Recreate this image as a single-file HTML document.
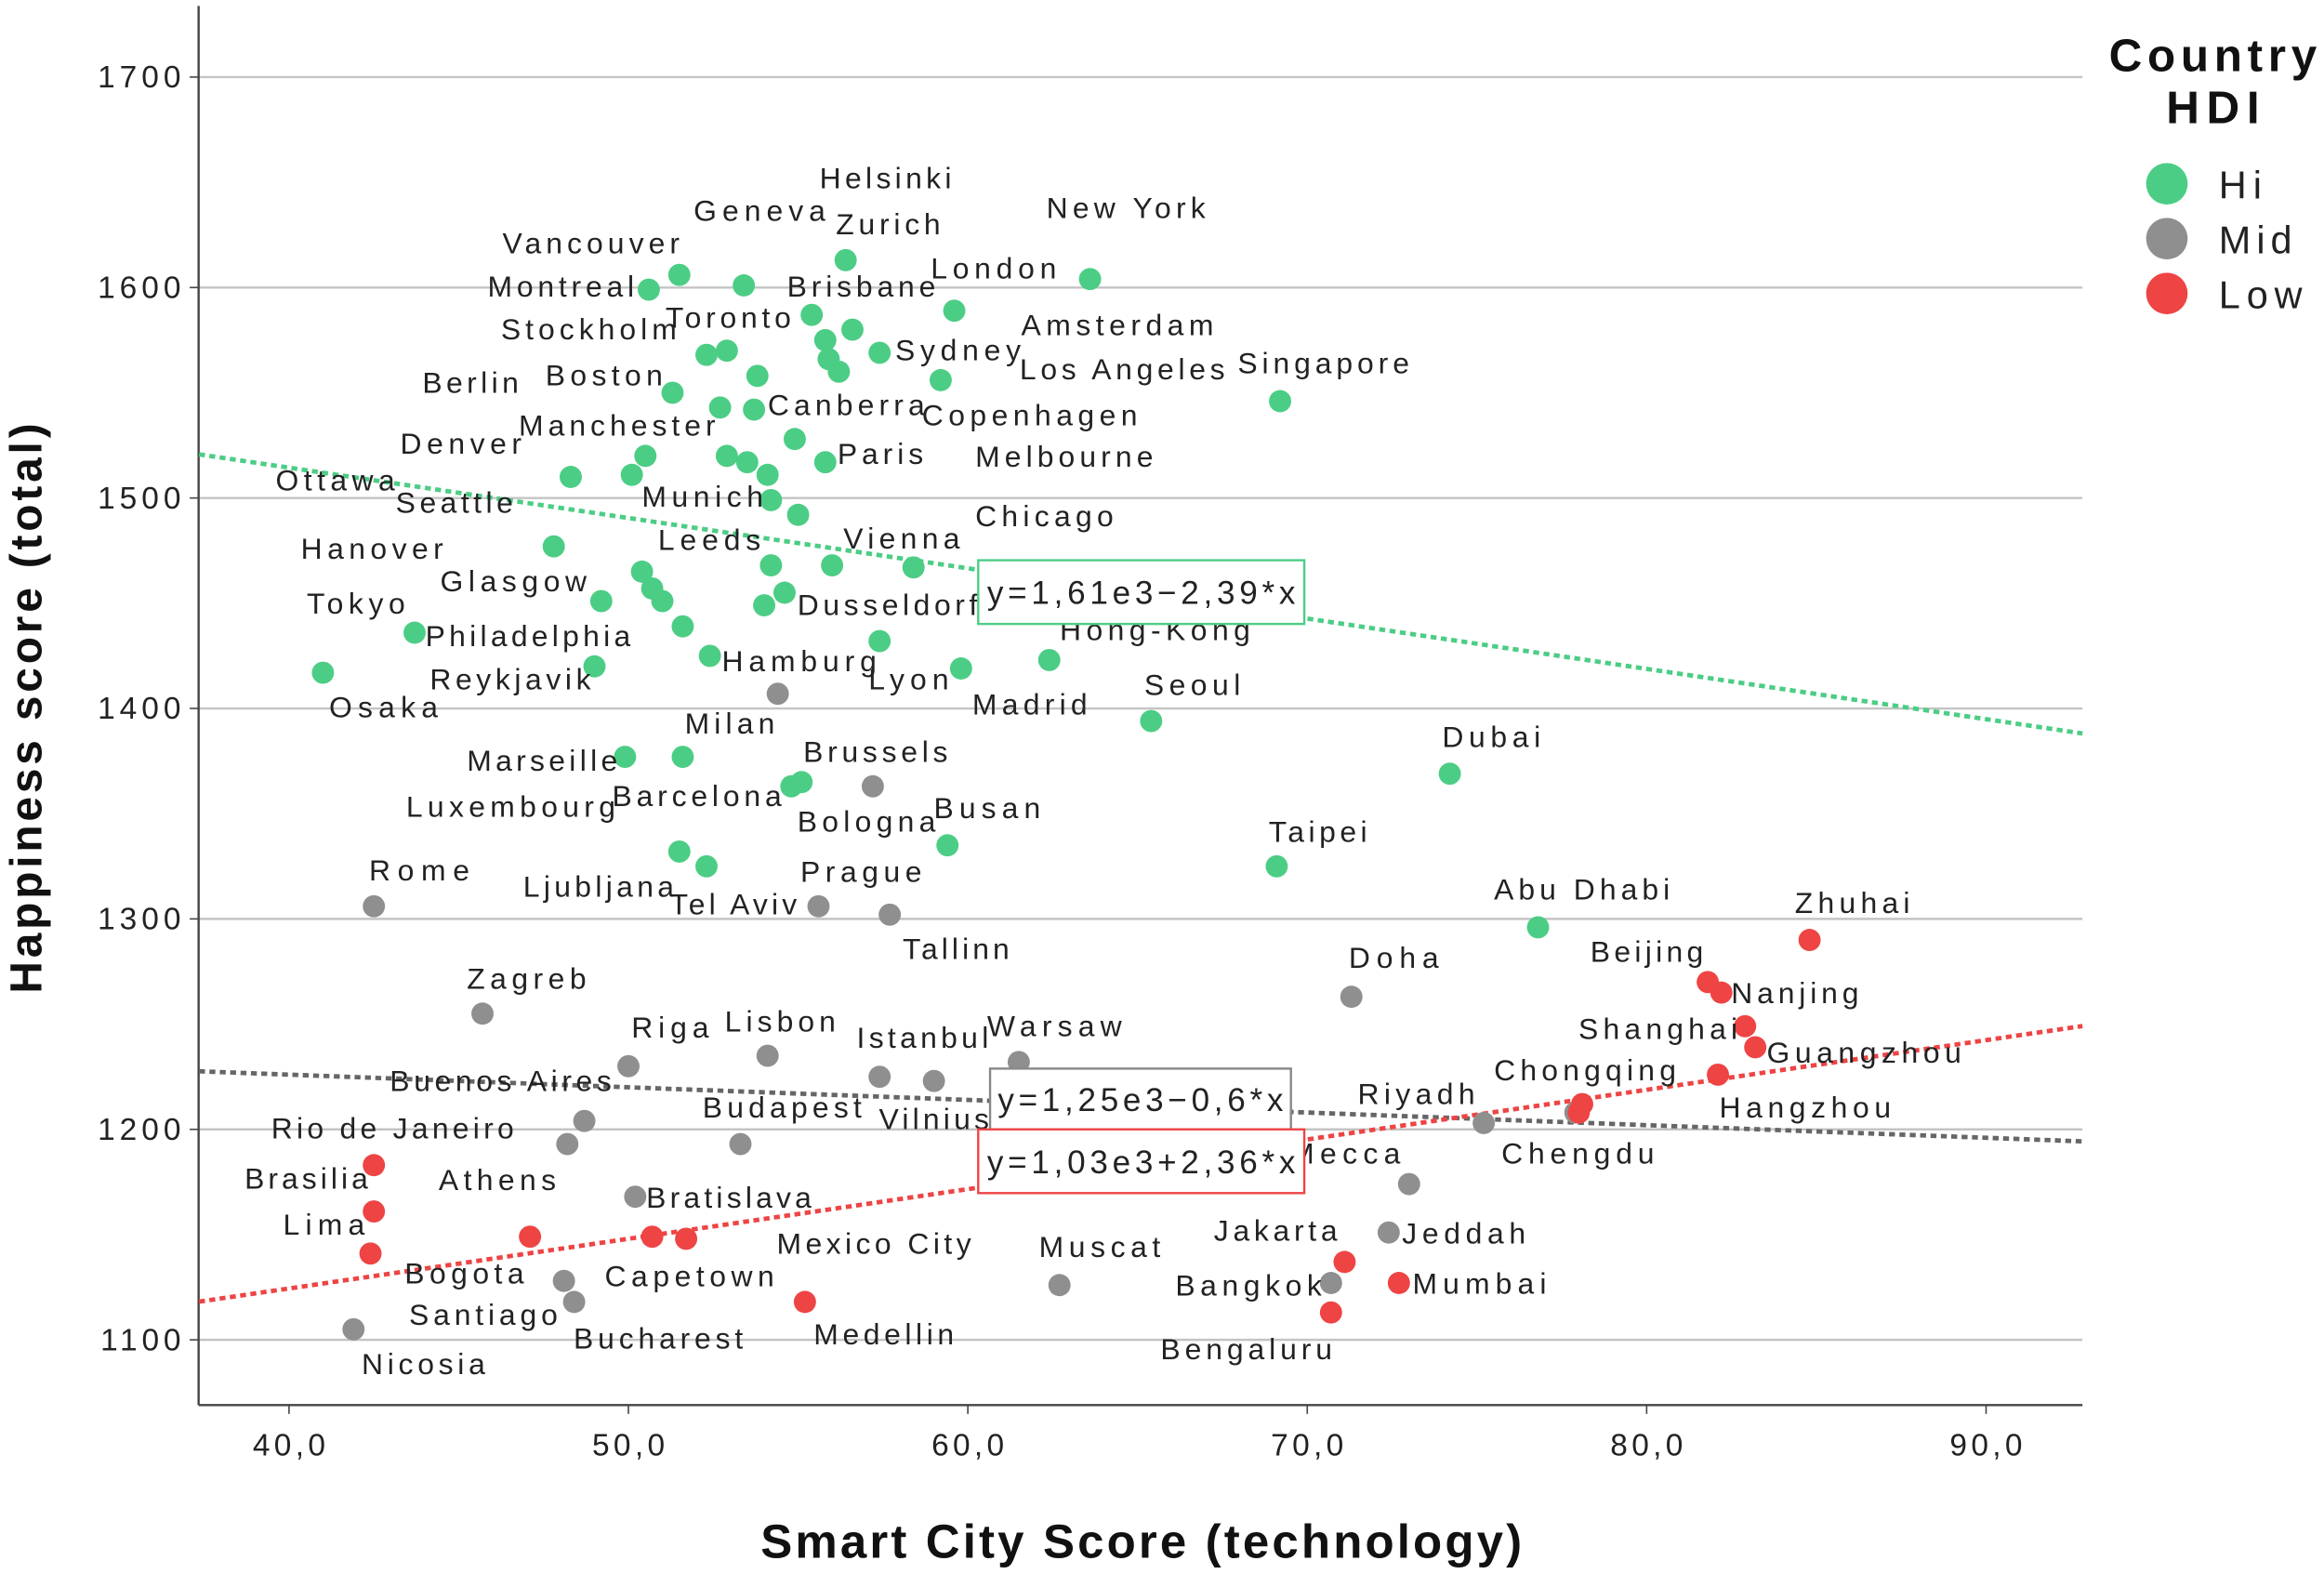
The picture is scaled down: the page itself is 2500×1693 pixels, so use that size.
<!DOCTYPE html>
<html><head><meta charset="utf-8"><style>
html,body{margin:0;padding:0;background:#fff;}
svg{display:block;font-family:"Liberation Sans",sans-serif;}
</style></head><body>
<svg id="chart" width="2500" height="1693" viewBox="0 0 1568 1062" preserveAspectRatio="none" xmlns="http://www.w3.org/2000/svg">
<rect width="1568" height="1062" fill="#fff"/>
<g id="grid"></g>
<g id="axes"></g>
<g id="lines"></g>
<g id="dots"></g>
<g id="labels" font-size="20" fill="#222"></g>
<g id="boxes"></g>
<g>
<text class="s118" x="1493" y="48" text-anchor="middle" font-size="31" font-weight="bold" fill="#111">Country</text>
<text class="s118" x="1493" y="83" text-anchor="middle" font-size="31" font-weight="bold" fill="#111">HDI</text>
<circle cx="1462" cy="124" r="14" fill="#4ccd85"/>
<text class="s118" x="1497" y="134" font-size="26" fill="#222">Hi</text>
<circle cx="1462" cy="161" r="14" fill="#8f8f8f"/>
<text class="s118" x="1497" y="171" font-size="26" fill="#222">Mid</text>
<circle cx="1462" cy="198" r="14" fill="#ee4444"/>
<text class="s118" x="1497" y="208" font-size="26" fill="#222">Low</text>
</g>
<text class="s116" transform="translate(28,478) rotate(-90)" text-anchor="middle" font-size="30" font-weight="bold" fill="#111">Happiness score (total)</text>
<text class="s112" x="770" y="1051" text-anchor="middle" font-size="32" font-weight="bold" fill="#111">Smart City Score (technology)</text>
</svg>
<script>
const xTicks = [40, 50, 60, 70, 80, 90];
const xTickLabels = ["40,0", "50,0", "60,0", "70,0", "80,0", "90,0"];
const yTicks = [1100, 1200, 1300, 1400, 1500, 1600, 1700];
const hiX = [51.5,53.4,56.4,63.6,50.6,55.4,56.6,59.6,52.3,52.9,53.8,55.8,55.9,56.2,57.4,59.2,51.3,52.7,53.7,54.9,55.8,50.5,48.3,50.1,52.9,53.5,54.1,54.2,55.0,47.8,54.2,56.0,58.4,50.4,50.7,51.0,49.2,54.6,54.0,51.6,52.4,43.7,57.4,62.4,59.8,49.0,41.0,65.4,74.2,49.9,51.6,54.8,55.1,59.4,51.5,52.3,69.1,76.8,69.2];
const hiY = [1606,1601,1613,1604,1599,1587,1580,1589,1568,1570,1558,1575,1566,1560,1569,1556,1550,1543,1542,1528,1517,1520,1510,1511,1520,1517,1511,1499,1492,1477,1468,1468,1467,1465,1457,1451,1451,1455,1449,1439,1425,1436,1432,1423,1419,1420,1417,1394,1369,1377,1377,1363,1365,1335,1332,1325,1325,1296,1546];
const midX = [54.4,57.2,42.5,55.6,57.7,45.7,50.0,54.1,57.4,59.0,61.5,48.7,48.2,53.3,50.2,48.1,48.4,41.9,62.7,70.7,72.4,73.0,71.3,75.2,77.9];
const midY = [1407,1363,1306,1306,1302,1255,1230,1235,1225,1223,1232,1204,1193,1193,1168,1128,1118,1105,1126,1127,1151,1174,1263,1203,1208];
const lowX = [42.5,42.5,42.4,47.1,50.7,51.7,55.2,84.8,81.8,82.2,82.9,83.2,82.1,78.1,78.0,71.1,70.7,72.7];
const lowY = [1183,1161,1141,1149,1149,1148,1118,1290,1270,1265,1249,1239,1226,1212,1208,1137,1113,1127];
const fitIntercept = [1610, 1250, 1030];
const fitSlope = [-2.39, -0.6, 2.36];
const fitLabels = ["y=1,61e3\u22122,39*x", "y=1,25e3\u22120,6*x", "y=1,03e3+2,36*x"];

const NS = "http://www.w3.org/2000/svg";
const X0 = 37.35, X1 = 92.84;
function sx(v){ return 195 + (v - 40) * 22.9; }
function sy(v){ return 52 + (1700 - v) * 1.42; }
function mk(tag, attrs, parent){ const e = document.createElementNS(NS, tag); for (const k in attrs) e.setAttribute(k, attrs[k]); parent.appendChild(e); return e; }

const grid = document.getElementById('grid');
yTicks.forEach(t => {
  const l = mk('line', {x1:134, x2:1405, y1:sy(t), y2:sy(t), stroke:'#c4c4c4', 'stroke-width':1.5}, grid);
  
  
});
const axes = document.getElementById('axes');
const ya = mk('line', {x1:134, x2:134, y1:4, y2:948, stroke:'#444', 'stroke-width':1.5}, axes);


const xa = mk('line', {x1:134, x2:1405, y1:948, y2:948, stroke:'#444', 'stroke-width':1.5}, axes);


yTicks.forEach(t => {
  const tx = mk('text', {x:122, y:sy(t)+7, 'text-anchor':'end', 'font-size':21, fill:'#222', 'class':'s120'}, axes);
  tx.textContent = t;
  
  
  mk('line', {x1:128, x2:134, y1:sy(t), y2:sy(t), stroke:'#444'}, axes);
});
xTicks.forEach((t, i) => {
  const tx = mk('text', {x:sx(t), y:982, 'text-anchor':'middle', 'font-size':21, fill:'#222', 'class':'s120'}, axes);
  tx.textContent = xTickLabels[i];
  
  
  mk('line', {x1:sx(t), x2:sx(t), y1:948, y2:954, stroke:'#444'}, axes);
});

const colors = ['#4ccd85', '#666666', '#ee4444'];
const lines = document.getElementById('lines');
fitIntercept.forEach((a, i) => {
  const b = fitSlope[i];
  const l = mk('line', {x1:sx(X0), y1:sy(a + b*X0), x2:sx(X1), y2:sy(a + b*X1), stroke:colors[i], 'stroke-width':3, 'stroke-dasharray':'4 3'}, lines);
  
  
});

const dots = document.getElementById('dots');
function drawSeries(xs, ys, col, name){
  xs.forEach((x, i) => {
    const c = mk('circle', {cx:sx(x), cy:sy(ys[i]), r:7.5, fill:col}, dots);
    
    
  });
}
drawSeries(hiX, hiY, '#4ccd85', 'hi');
drawSeries(midX, midY, '#8f8f8f', 'mid');
drawSeries(lowX, lowY, '#ee4444', 'low');

const labelData = [["Helsinki",553,120],["Geneva",468,142],["Zurich",564,151],["New York",706,140],["Vancouver",339,164],["London",628,181],["Montreal",329,193],["Brisbane",531,193],["Toronto",449,214],["Amsterdam",689,219],["Stockholm",338,222],["Sydney",604,236],["Los Angeles",688,249],["Singapore",835,245],["Berlin",285,258],["Boston",368,253],["Canberra",518,273],["Copenhagen",622,280],["Manchester",350,287],["Denver",270,299],["Paris",565,306],["Melbourne",658,308],["Ottawa",186,324],["Seattle",267,339],["Munich",433,335],["Chicago",658,348],["Hanover",203,370],["Leeds",444,364],["Vienna",569,363],["Glasgow",297,392],["Tokyo",207,407],["Dusseldorf",538,408],["Philadelphia",287,429],["Hong-Kong",715,425],["Hamburg",487,446],["Lyon",586,458],["Reykjavik",290,458],["Madrid",656,475],["Seoul",772,462],["Osaka",222,477],["Milan",462,488],["Dubai",973,497],["Brussels",542,507],["Marseille",315,513],["Barcelona",413,537],["Luxembourg",274,544],["Bologna",538,554],["Busan",630,545],["Taipei",856,561],["Rome",249,587],["Prague",540,588],["Ljubljana",353,598],["Abu Dhabi",1008,600],["Tel Aviv",452,610],["Zhuhai",1211,609],["Tallinn",609,640],["Doha",910,646],["Beijing",1073,642],["Zagreb",315,660],["Nanjing",1168,670],["Lisbon",489,689],["Riga",426,693],["Istanbul",578,700],["Warsaw",666,692],["Shanghai",1065,694],["Guangzhou",1192,710],["Buenos Aires",263,729],["Chongqing",1008,722],["Budapest",474,747],["Vilnius",593,755],["Riyadh",916,738],["Hangzhou",1160,747],["Rio de Janeiro",183,761],["Mecca",870,778],["Chengdu",1013,778],["Athens",296,796],["Brasilia",165,795],["Bratislava",436,808],["Lima",191,826],["Jakarta",819,830],["Jeddah",946,832],["Mexico City",524,839],["Muscat",701,841],["Bogota",273,859],["Capetown",408,861],["Mumbai",953,866],["Bangkok",793,867],["Santiago",276,887],["Bucharest",387,903],["Medellin",549,900],["Bengaluru",783,910],["Nicosia",244,920]];
const labels = document.getElementById('labels');
labelData.forEach(d => {
  const t = mk('text', {x:d[1], y:d[2]+7, 'class':'s127'}, labels);
  t.textContent = d[0];
  
  
});

const boxes = document.getElementById('boxes');
const boxPos = [[660,378,220,43,'#4ccd85'],[668,721,203,41,'#888'],[660,762,220,43,'#ee4444']];
boxPos.forEach((b, i) => {
  const r = mk('rect', {x:b[0], y:b[1], width:b[2], height:b[3], fill:'#fff', stroke:b[4], 'stroke-width':1.5}, boxes);
  
  
  const t = mk('text', {x:b[0]+b[2]/2, y:b[1]+b[3]/2+8, 'text-anchor':'middle', 'font-size':22, fill:'#222', 'class':'s125'}, boxes);
  t.textContent = fitLabels[i];
  
  
});

const scales = {s127:1.27, s125:1.25, s120:1.2, s118:1.18, s116:1.16, s112:1.12};
Object.keys(scales).forEach(cls => {
  document.querySelectorAll('text.' + cls).forEach(t => {
    const w = t.getComputedTextLength();
    if (w > 0) {
      t.setAttribute('textLength', (w * scales[cls]).toFixed(1));
      t.setAttribute('lengthAdjust', 'spacing');
    }
  });
});
</script>
</body></html>
